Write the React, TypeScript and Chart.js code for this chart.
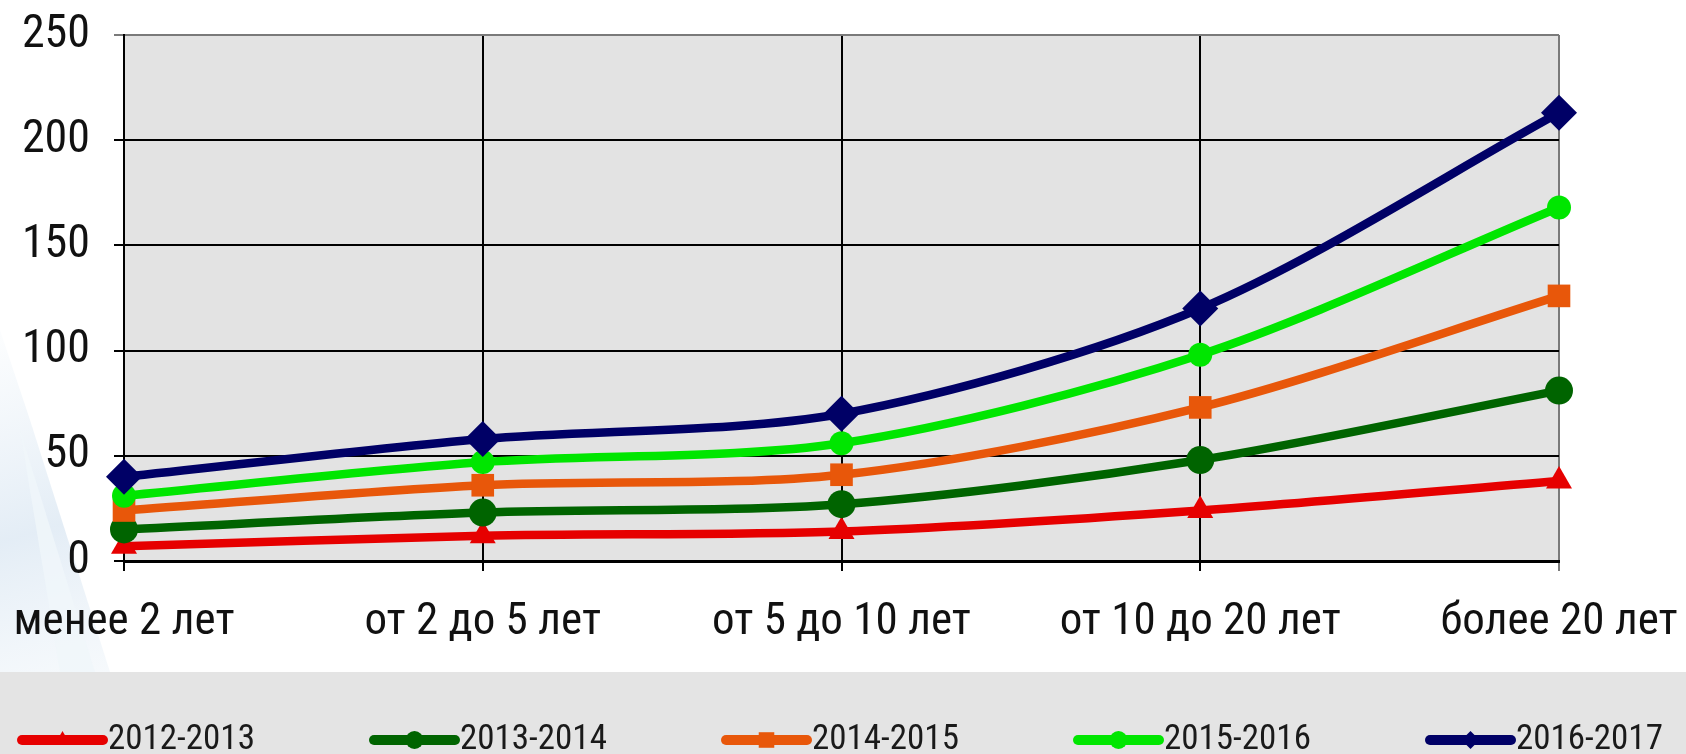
import React, { useEffect, useRef } from "react";
import { Chart, registerables } from "chart.js";

Chart.register(...registerables);

const categories = ["менее 2 лет", "от 2 до 5 лет", "от 5 до 10 лет", "от 10 до 20 лет", "более 20 лет"];
const seriesNames = ["2012-2013", "2013-2014", "2014-2015", "2015-2016", "2016-2017"];
const values2012 = [7, 12, 14, 24, 38];
const values2013 = [15, 23, 27, 48, 81];
const values2014 = [24, 36, 41, 73, 126];
const values2015 = [31, 47, 56, 98, 168];
const values2016 = [40, 58, 70, 120, 213];
const seriesValues = [values2012, values2013, values2014, values2015, values2016];
const seriesColors = ["#e60000", "#006400", "#e8570a", "#00e600", "#000066"];
const pointStyles = ["triangle", "circle", "rect", "circle", "rectRot"];
const pointRadii = [15, 14, 16, 12, 18];
const yMin = 0;
const yMax = 250;
const yStep = 50;

const FONT = "'Roboto Condensed', 'Liberation Sans', sans-serif";

function drawMarker(ctx: CanvasRenderingContext2D, style: string, x: number, y: number, r: number) {
  ctx.beginPath();
  if (style === "triangle") {
    ctx.moveTo(x, y - r);
    ctx.lineTo(x + r * 0.866, y + r * 0.5);
    ctx.lineTo(x - r * 0.866, y + r * 0.5);
    ctx.closePath();
  } else if (style === "circle") {
    ctx.arc(x, y, r, 0, Math.PI * 2);
  } else if (style === "rect") {
    const s = r * Math.SQRT1_2;
    ctx.rect(x - s, y - s, 2 * s, 2 * s);
  } else {
    ctx.moveTo(x, y - r);
    ctx.lineTo(x + r, y);
    ctx.lineTo(x, y + r);
    ctx.lineTo(x - r, y);
    ctx.closePath();
  }
  ctx.fill();
}

const bgPlugin = {
  id: "bgPlugin",
  beforeDraw(chart: any) {
    const { ctx, width, height, chartArea } = chart;
    ctx.save();
    ctx.fillStyle = "#ffffff";
    ctx.fillRect(0, 0, width, height);
    const g = ctx.createLinearGradient(0, 300, 110, 672);
    g.addColorStop(0, "rgba(215,230,242,0)");
    g.addColorStop(0.6, "rgba(205,222,238,0.55)");
    g.addColorStop(1, "rgba(225,236,245,0.3)");
    ctx.fillStyle = g;
    ctx.beginPath();
    ctx.moveTo(0, 330);
    ctx.lineTo(30, 420);
    ctx.lineTo(110, 672);
    ctx.lineTo(0, 672);
    ctx.closePath();
    ctx.fill();
    ctx.fillStyle = "rgba(240,246,250,0.8)";
    ctx.beginPath();
    ctx.moveTo(20, 430);
    ctx.lineTo(95, 672);
    ctx.lineTo(60, 672);
    ctx.closePath();
    ctx.fill();
    ctx.fillStyle = "#e4e4e4";
    ctx.fillRect(0, 672, width, height - 672);
    ctx.fillStyle = "#e3e3e3";
    ctx.fillRect(chartArea.left, chartArea.top, chartArea.right - chartArea.left, chartArea.bottom - chartArea.top);
    ctx.restore();
  },
  afterDraw(chart: any) {
    const { ctx } = chart;
    ctx.save();
    const y = 740;
    seriesNames.forEach((name, i) => {
      const x0 = 22 + i * 352;
      ctx.strokeStyle = seriesColors[i];
      ctx.lineWidth = 10;
      ctx.lineCap = "round";
      ctx.beginPath();
      ctx.moveTo(x0, y);
      ctx.lineTo(x0 + 81, y);
      ctx.stroke();
      ctx.fillStyle = seriesColors[i];
      drawMarker(ctx, pointStyles[i], x0 + 40.5, y, pointStyles[i] === "rect" ? 11 : 9);
      ctx.fillStyle = "#1a1a1a";
      ctx.font = `35px ${FONT}`;
      ctx.textAlign = "left";
      ctx.textBaseline = "middle";
      ctx.fillText(name, x0 + 86, y);
    });
    ctx.restore();
  },
};

export default function App() {
  const canvasRef = useRef<HTMLCanvasElement | null>(null);

  useEffect(() => {
    const canvas = canvasRef.current;
    if (!canvas) return;
    const datasets = seriesNames.map((name, i) => ({
      label: name,
      data: seriesValues[i],
      borderColor: seriesColors[i],
      backgroundColor: seriesColors[i],
      borderWidth: 8.5,
      pointStyle: pointStyles[i] as any,
      pointRadius: pointRadii[i],
      pointBorderWidth: 0,
      pointBackgroundColor: seriesColors[i],
      tension: 0.3,
      fill: false,
      clip: false as any,
      order: seriesNames.length - i,
    }));
    const chart = new Chart(canvas, {
      type: "line",
      data: { labels: categories, datasets },
      options: {
        responsive: false,
        animation: false,
        layout: { padding: { top: 35, right: 127, bottom: 98, left: 0 } },
        plugins: { legend: { display: false }, tooltip: { enabled: false } },
        scales: {
          x: {
            offset: false,
            grid: {
              color: (c: any) => (c.index === categories.length - 1 ? "#7a7a7a" : "#000000"),
              lineWidth: 2,
              tickLength: 10,
              drawTicks: true,
            },
            border: { color: "#000000", width: 3 },
            ticks: {
              autoSkip: false,
              maxRotation: 0,
              minRotation: 0,
              padding: 25,
              color: "#111111",
              font: { family: FONT, size: 45 },
            },
            afterFit: (scale: any) => {
              scale.height = 95;
              scale.paddingLeft = 0;
              scale.paddingRight = 0;
            },
          },
          y: {
            min: yMin,
            max: yMax,
            grid: {
              color: (c: any) => (c.tick && c.tick.value === yMax ? "#7a7a7a" : "#000000"),
              lineWidth: 2,
              tickLength: 10,
              drawTicks: true,
            },
            border: { color: "#000000", width: 2 },
            ticks: {
              stepSize: yStep,
              padding: 24,
              color: "#111111",
              font: { family: FONT, size: 46 },
            },
            afterFit: (scale: any) => {
              scale.width = 124;
              scale.paddingTop = 0;
              scale.paddingBottom = 0;
            },
          },
        },
      },
      plugins: [bgPlugin],
    });
    return () => chart.destroy();
  }, []);

  return (
    <div style={{ position: "fixed", left: 0, top: 0, width: 1686, height: 754, background: "#fff" }}>
      <canvas ref={canvasRef} width={1686} height={754} style={{ display: "block", width: 1686, height: 754 }} />
    </div>
  );
}
